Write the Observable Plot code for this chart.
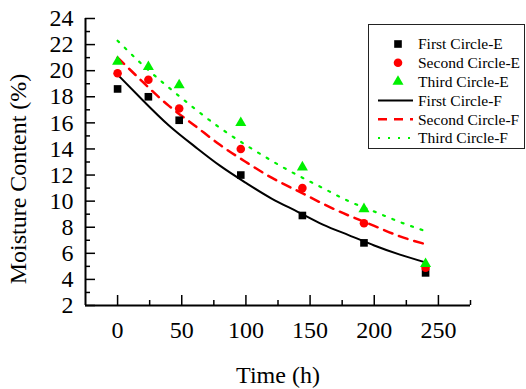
<!DOCTYPE html>
<html>
<head>
<meta charset="utf-8">
<script src="https://cdn.jsdelivr.net/npm/d3@7"></script>
<script src="https://cdn.jsdelivr.net/npm/@observablehq/plot@0.6"></script>
<style>
  html, body { margin: 0; padding: 0; background: white; }
  #chart { position: relative; width: 526px; height: 389px; }
</style>
</head>
<body>
<div id="chart"></div>
<script>
// Experimental (E) data
const time = [0, 24, 48, 96, 144, 192, 240];
const firstE = [18.6, 18.0, 16.2, 12.0, 8.9, 6.8, 4.5];
const secondE = [19.8, 19.3, 17.1, 14.0, 11.0, 8.3, 4.9];
const thirdE = [20.7, 20.3, 18.9, 16.0, 12.6, 9.4, 5.2];

// Fitted (F) curves
const fitTime = [0, 20, 40, 60, 80, 100, 120, 140, 160, 180, 200, 220, 240];
const firstF = [19.7, 17.7, 15.8, 14.2, 12.7, 11.4, 10.2, 9.2, 8.2, 7.4, 6.6, 5.9, 5.3];
const secondF = [21.0, 19.1, 17.3, 15.8, 14.3, 13.0, 11.8, 10.8, 9.8, 8.9, 8.1, 7.3, 6.7];
const thirdF = [22.3, 20.4, 18.7, 17.1, 15.6, 14.3, 13.1, 12.0, 11.0, 10.0, 9.2, 8.4, 7.7];

const xDomain = [-25, 275];
const yDomain = [2, 24];
const xMajor = [0, 50, 100, 150, 200, 250];
const xMinor = [25, 75, 125, 175, 225, 275];
const yMajor = [2, 4, 6, 8, 10, 12, 14, 16, 18, 20, 22, 24];
const yMinor = [3, 5, 7, 9, 11, 13, 15, 17, 19, 21, 23];

const seriesNames = ["First Circle-E", "Second Circle-E", "Third Circle-E", "First Circle-F", "Second Circle-F", "Third Circle-F"];
const colors = ["#000000", "#ff0000", "#00f000"];

// pick an installed serif font
function pickFont(cands) {
  const c = document.createElement("canvas").getContext("2d");
  const sample = "Moisture Content (%) 0123456789 Time";
  const w = f => { c.font = "72px " + f; return c.measureText(sample).width; };
  for (const f of cands) {
    const q = `"${f}"`;
    if (w(q + ", monospace") !== w("monospace") || w(q + ", sans-serif") !== w("sans-serif")) return q;
  }
  return "serif";
}
const serif = pickFont(["Liberation Serif", "Times New Roman", "Tinos", "DejaVu Serif", "Noto Serif"]) + ", serif";

const pts = (xs, ys) => xs.map((x, i) => ({x, y: ys[i]}));

const chart = Plot.plot({
  width: 526,
  height: 389,
  marginLeft: 85,
  marginRight: 56,
  marginTop: 18,
  marginBottom: 84,
  x: {domain: xDomain},
  y: {domain: yDomain},
  style: {fontFamily: serif, fontSize: "24px", color: "black", background: "white"},
  marks: [
    // axis lines
    Plot.ruleX([xDomain[0]], {y1: yDomain[0], y2: yDomain[1], strokeWidth: 2}),
    Plot.ruleY([yDomain[0]], {x1: xDomain[0], x2: xDomain[1], strokeWidth: 2}),
    // ticks (inward)
    Plot.axisX({ticks: xMajor, tickSize: -10, tickFormat: () => "", label: null, strokeWidth: 1.5}),
    Plot.axisX({ticks: xMinor, tickSize: -5, tickFormat: () => "", label: null, strokeWidth: 1.5}),
    Plot.axisY({ticks: yMajor, tickSize: -10, tickFormat: () => "", label: null, strokeWidth: 1.5}),
    Plot.axisY({ticks: yMinor, tickSize: -5, tickFormat: () => "", label: null, strokeWidth: 1.5}),
    // tick labels
    Plot.axisX({ticks: xMajor, tickSize: 0, tickPadding: 15, label: null, fontSize: 24, fontFamily: serif}),
    Plot.axisY({ticks: yMajor, tickSize: 0, tickPadding: 12, label: null, fontSize: 24, fontFamily: serif}),
    // axis titles
    Plot.text(["Time (h)"], {frameAnchor: "bottom", lineAnchor: "middle", textAnchor: "middle", dy: 70, fontSize: 24, fontFamily: serif}),
    Plot.text(["Moisture Content (%)"], {frameAnchor: "left", textAnchor: "middle", lineAnchor: "middle", dx: -67, dy: 17, rotate: -90, fontSize: 24, fontFamily: serif}),
    // fitted curves
    Plot.line(pts(fitTime, firstF), {x: "x", y: "y", stroke: colors[0], strokeWidth: 2, curve: "natural"}),
    Plot.line(pts(fitTime, secondF), {x: "x", y: "y", stroke: colors[1], strokeWidth: 2.5, strokeDasharray: "9,7", curve: "natural"}),
    Plot.line(pts(fitTime, thirdF), {x: "x", y: "y", stroke: colors[2], strokeWidth: 2.2, strokeDasharray: "2,8", curve: "natural"}),
    // experimental points
    Plot.dot(pts(time, firstE), {x: "x", y: "y", symbol: "square", r: 4.3, fill: colors[0]}),
    Plot.dot(pts(time, secondE), {x: "x", y: "y", symbol: "circle", r: 4.3, fill: colors[1]}),
    Plot.dot(pts(time, thirdE), {x: "x", y: "y", symbol: "triangle", r: 4.1, fill: colors[2]})
  ]
});

document.getElementById("chart").appendChild(chart);

// Legend box drawn into the same SVG
const svg = d3.select(chart);
const lg = svg.append("g").attr("font-family", serif).style("font-family", serif).attr("font-size", "15.5px").attr("text-anchor", "start");
lg.append("rect").attr("x", 368.5).attr("y", 24.5).attr("width", 156).attr("height", 124)
  .attr("fill", "white").attr("stroke", "#222").attr("stroke-width", 1);
const rowY = i => 44 + i * 18.8;
const symbols = [d3.symbolSquare, d3.symbolCircle, d3.symbolTriangle];
const symSizes = [4.3, 4.3, 4.1];
for (let i = 0; i < 3; i++) {
  lg.append("path").attr("transform", `translate(398,${rowY(i)})`)
    .attr("d", d3.symbol(symbols[i], Math.PI * symSizes[i] * symSizes[i])())
    .attr("fill", colors[i]);
}
const dashes = [null, "9,7", "2,8"];
const widths = [2, 2.5, 2.2];
for (let i = 0; i < 3; i++) {
  const l = lg.append("line").attr("x1", 378).attr("x2", 413).attr("y1", rowY(i + 3)).attr("y2", rowY(i + 3))
    .attr("stroke", colors[i]).attr("stroke-width", widths[i]);
  if (dashes[i]) l.attr("stroke-dasharray", dashes[i]);
}
seriesNames.forEach((name, i) => {
  lg.append("text").attr("x", 418).attr("y", rowY(i)).attr("dy", "0.35em").attr("text-anchor", "start").attr("fill", "black").text(name);
});
</script>
</body>
</html>
